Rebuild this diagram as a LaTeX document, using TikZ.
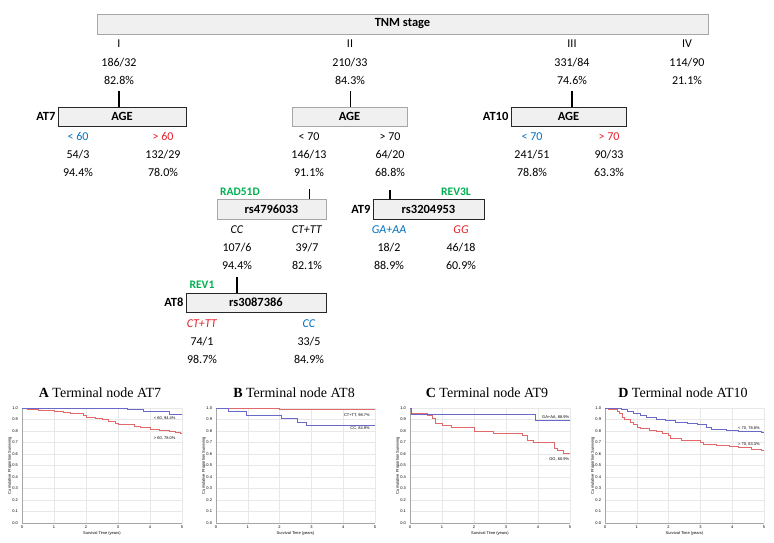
\documentclass[tikz,border=0pt]{standalone}
\usepackage{fontspec}
\setmainfont{Carlito}
\newfontfamily\titlefont{Liberation Serif}
\newfontfamily\plotfont{Liberation Sans}
\usepackage{tikz}
\usetikzlibrary{positioning}
\usepackage{xcolor}
\definecolor{agblue}{RGB}{0,112,192}
\definecolor{agred}{RGB}{232,30,40}
\definecolor{aggreen}{RGB}{0,176,80}
\definecolor{boxfill}{RGB}{240,240,240}
\definecolor{kmblue}{RGB}{105,105,200}
\definecolor{kmred}{RGB}{225,105,105}

% tres lineas de un nodo: etiqueta, n/eventos, supervivencia
\newcommand{\leafstat}[6]{%
	\node[txt] (#1l) at (#2,#3) {#4};
	\node[txt] (#1n) at (#2,#3+18) {#5};
	\node[txt] (#1p) at (#2,#3+36) {#6};
}

% ejes de Kaplan-Meier
\newcommand{\kmaxes}{%
	\foreach \v in {1,...,10} \draw[kmgrid] (0,\v/10) -- (5,\v/10);
	\foreach \v in {1,...,5} \draw[kmgrid] (\v,0) -- (\v,1);
	\draw[kmaxis] (0,1) -- (0,0) -- (5,0);
	\foreach \v in {0,...,9} \node[kmtick, anchor=east] at (-0.12,\v/10) {0.\v};
	\node[kmtick, anchor=east] at (-0.12,1) {1.0};
	\foreach \v in {0,...,5} \node[kmtick, anchor=north] at (\v,-0.02) {\v};
	\node[kmtick] at (2.5,-0.087) {Survival Time (years)};
	\node[kmtick, rotate=90] at (-0.38,0.5) {Cumulative Proportion Surviving};
}

\begin{document}
\begin{tikzpicture}[x=1pt, y=-1pt, font=\fontsize{12}{14}\selectfont,
	txt/.style={inner sep=0pt, text height=9pt, text depth=1pt},
	bold/.style={font=\fontsize{12.5}{14}\selectfont\bfseries},
	genelab/.style={txt, text=aggreen, font=\fontsize{11.5}{13}\selectfont\bfseries},
	atlab/.style={inner sep=0pt, font=\fontsize{12.5}{14}\selectfont\bfseries},
	gbox/.style={draw=gray!70, fill=boxfill, inner sep=0pt, line width=0.6pt, bold},
	tbox/.style={draw=black!85, fill=boxfill, inner sep=0pt, line width=0.8pt, bold},
	link/.style={line width=0.6pt},
	tlink/.style={line width=1.6pt},
	ptitle/.style={inner sep=0pt, font=\titlefont\fontsize{14}{16}\selectfont},
	kmgrid/.style={gray!18, line width=0.3pt},
	kmaxis/.style={gray!70, line width=0.4pt},
	kmtick/.style={inner sep=0pt, font=\plotfont\fontsize{4}{5}\selectfont},
	kmlab/.style={kmtick, anchor=east},
	kmb/.style={kmblue, line width=0.6pt},
	kmr/.style={kmred, line width=0.6pt}]
	\useasboundingbox (0,0) rectangle (774,542);

	% Estadio TNM
	\node[gbox, minimum width=611pt, minimum height=20pt] (tnm) at (402.5,24) {TNM stage};
	\foreach \x/\s/\n/\p [count=\i] in {119/I/{186/32}/{82.8\%}, 350/II/{210/33}/{84.3\%},
		572/III/{331/84}/{74.6\%}, 687/IV/{114/90}/{21.1\%}} {
		\node[txt] (st\i) at (\x,43) {\s};
		\node[txt] (n\i) at (\x,62) {\n};
		\node[txt] (p\i) at (\x,80) {\p};
	}

	% Edad
	\node[tbox, minimum width=128pt, minimum height=19pt] (age1) at (122,116.5) {AGE};
	\node[gbox, minimum width=115pt, minimum height=19pt] (age2) at (349.5,116.5) {AGE};
	\node[tbox, minimum width=115pt, minimum height=19pt] (age3) at (568.5,116.5) {AGE};
	\node[atlab, left=2pt of age1] (at7) {AT7};
	\node[atlab, left=2pt of age3] (at10) {AT10};
	\draw[tlink] ([yshift=-6pt]p1.south) -- (p1.south |- age1.north);
	\draw[link] ([yshift=-6pt]p2.south) -- (p2.south |- age2.north);
	\draw[tlink] ([yshift=-6pt]p3.south) -- (p3.south |- age3.north);

	\leafstat{a1}{78}{136}{\textcolor{agblue}{< 60}}{54/3}{94.4\%}
	\leafstat{a2}{163}{136}{\textcolor{agred}{> 60}}{132/29}{78.0\%}
	\leafstat{b1}{309}{136}{< 70}{146/13}{91.1\%}
	\leafstat{b2}{390}{136}{> 70}{64/20}{68.8\%}
	\leafstat{c1}{532}{136}{\textcolor{agblue}{< 70}}{241/51}{78.8\%}
	\leafstat{c2}{609}{136}{\textcolor{agred}{> 70}}{90/33}{63.3\%}

	% SNPs
	\node[gbox, minimum width=109pt, minimum height=20pt] (rad) at (271.5,209) {rs4796033};
	\node[tbox, minimum width=111pt, minimum height=20pt] (rev3) at (428.5,209) {rs3204953};
	\node[genelab] (g1) at (240,191) {RAD51D};
	\node[genelab] (g2) at (456,191) {REV3L};
	\node[atlab, left=2pt of rev3] (at9) {AT9};
	\draw[link] ([yshift=-12pt]b1p.south) -- (b1p.south |- rad.north);
	\draw[tlink] ([yshift=-13pt]b2p.south) -- (b2p.south |- rev3.north);

	\leafstat{d1}{237}{229}{\textit{CC}}{107/6}{94.4\%}
	\leafstat{d2}{307}{229}{\textit{CT+TT}}{39/7}{82.1\%}
	\leafstat{e1}{389}{229}{\textcolor{agblue}{\textit{GA+AA}}}{18/2}{88.9\%}
	\leafstat{e2}{461}{229}{\textcolor{agred}{\textit{GG}}}{46/18}{60.9\%}

	\node[tbox, minimum width=140pt, minimum height=19pt] (rev1) at (256,302.5) {rs3087386};
	\node[genelab] (g3) at (202,284) {REV1};
	\node[atlab, left=2pt of rev1] (at8) {AT8};
	\draw[tlink] ([yshift=-7pt]d1p.south) -- (d1p.south |- rev1.north);

	\leafstat{f1}{202}{323}{\textcolor{agred}{\textit{CT+TT}}}{74/1}{98.7\%}
	\leafstat{f2}{309}{323}{\textcolor{agblue}{\textit{CC}}}{33/5}{84.9\%}

	% Curvas AT7
	\node[ptitle] (tA) at (100,393) {\textbf{A} Terminal node AT7};
	\begin{scope}[shift={(22,523)}, x=32pt, y=115pt]
		\kmaxes
		\draw[kmr] (0,1) -| (0.15,0.99) -| (0.5,0.98) -| (1.0,0.968) -| (1.3,0.96) -| (1.5,0.95) -| (1.9,0.935)
			-| (2.0,0.92) -| (2.3,0.912) -| (2.5,0.9) -| (2.7,0.885) -| (2.9,0.87) -| (3.0,0.855)
			-| (3.5,0.845) -| (3.7,0.83) -| (4.0,0.815) -| (4.3,0.805) -| (4.6,0.795) -| (4.8,0.785)
			-| (4.95,0.778) -- (5,0.778);
		\draw[kmb] (0,1) -| (3.3,0.99) -| (3.8,0.975) -| (4.6,0.944) -- (5,0.944);
		\node[kmlab] (lA1) at (4.8,0.913) {< 60, 94.4\%};
		\node[kmlab] (lA2) at (4.8,0.74) {> 60, 78.0\%};
	\end{scope}

	% Curvas AT8
	\node[ptitle] (tB) at (294,393) {\textbf{B} Terminal node AT8};
	\begin{scope}[shift={(216,523)}, x=31.8pt, y=115pt]
		\kmaxes
		\draw[kmr] (0,1) -| (2.0,0.987) -- (5,0.987);
		\draw[kmb] (0,1) -| (0.4,0.97) -| (0.95,0.94) -| (2.05,0.91) -| (2.55,0.88) -| (2.85,0.849) -- (5,0.849);
		\node[kmlab] (lB1) at (4.84,0.94) {CT+TT, 98.7\%};
		\node[kmlab] (lB2) at (4.84,0.826) {CC, 84.9\%};
	\end{scope}

	% Curvas AT9
	\node[ptitle] (tC) at (487,393) {\textbf{C} Terminal node AT9};
	\begin{scope}[shift={(410,523)}, x=32pt, y=115pt]
		\kmaxes
		\draw[kmr] (0,1) -| (0.05,0.955) -| (0.55,0.94) -| (0.7,0.91) -| (0.8,0.87) -| (1.0,0.85) -| (1.3,0.83)
			-| (2.0,0.80) -| (2.6,0.78) -| (3.5,0.76) -| (3.65,0.72) -| (3.85,0.70) -| (4.5,0.65)
			-| (4.6,0.63) -| (4.8,0.609) -- (5,0.609);
		\draw[kmb] (0,1) -| (0.05,0.944) -| (3.9,0.889) -- (5,0.889);
		\node[kmlab] (lC1) at (4.98,0.92) {GA+AA, 88.9\%};
		\node[kmlab] (lC2) at (4.98,0.556) {GG, 60.9\%};
	\end{scope}

	% Curvas AT10
	\node[ptitle] (tD) at (683,393) {\textbf{D} Terminal node AT10};
	\begin{scope}[shift={(605,523)}, x=31.8pt, y=115pt]
		\kmaxes
		\draw[kmr] (0,1) -| (0.1,0.99) -| (0.4,0.975) -| (0.45,0.95) -| (0.55,0.92) -| (0.6,0.90) -| (0.8,0.88)
			-| (0.9,0.86) -| (1.0,0.83) -| (1.1,0.82) -| (1.4,0.81) -| (1.6,0.795) -| (1.8,0.78)
			-| (2.0,0.76) -| (2.05,0.735) -| (2.4,0.715) -| (3.0,0.70) -| (3.1,0.685) -| (3.5,0.675)
			-| (3.9,0.665) -| (4.2,0.655) -| (4.6,0.645) -| (4.9,0.633) -- (5,0.633);
		\draw[kmb] (0,1) -| (0.3,0.995) -| (0.5,0.985) -| (0.7,0.975) -| (0.9,0.955) -| (1.1,0.935) -| (1.3,0.92)
			-| (1.6,0.905) -| (1.9,0.89) -| (2.2,0.875) -| (2.6,0.865) -| (2.9,0.855) -| (3.2,0.835)
			-| (3.35,0.815) -| (3.8,0.805) -| (4.2,0.795) -| (4.9,0.788) -- (5,0.788);
		\node[kmlab] (lD1) at (4.87,0.826) {< 70, 78.8\%};
		\node[kmlab] (lD2) at (4.87,0.68) {> 70, 63.3\%};
	\end{scope}
\end{tikzpicture}
\end{document}
